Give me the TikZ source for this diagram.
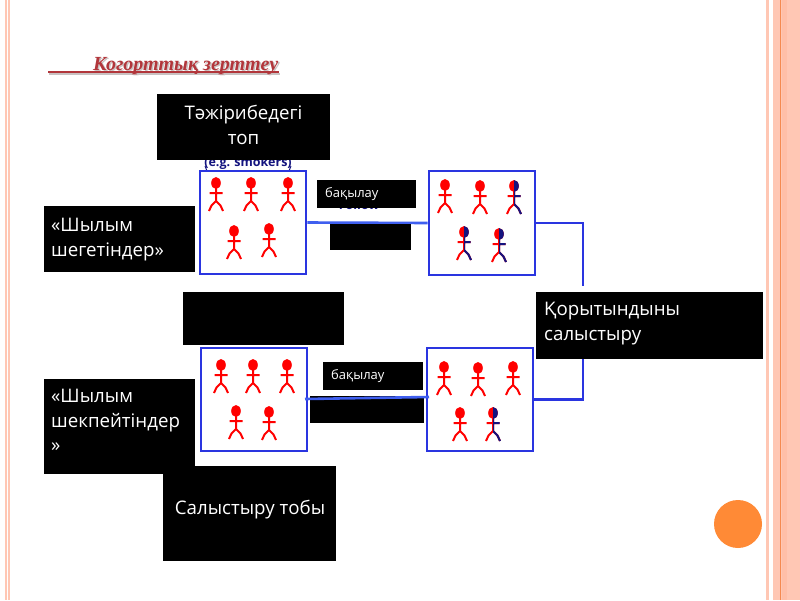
\documentclass[tikz,border=0pt]{standalone}
\usepackage{fontspec}
\setmainfont{Open Sans}
\newfontfamily\titlefont{Liberation Serif}
\definecolor{stripe}{HTML}{FFC7B4}
\definecolor{stripeD}{HTML}{FFBFA8}
\definecolor{stripeL}{HTML}{F58A50}
\definecolor{dotc}{HTML}{FF8A36}
\definecolor{boxb}{HTML}{2A35E0}
\definecolor{linkb}{HTML}{3F5FEF}
\definecolor{navyp}{HTML}{14147F}
\definecolor{titlec}{HTML}{B2363B}
\definecolor{titles}{HTML}{C9C2C2}
\tikzset{
  x=1pt,y=-1pt,
  groupbox/.style={draw=boxb,line width=2.6pt,fill=white,inner sep=0pt,minimum width=#1},
  linkline/.style={draw=boxb,line width=2.4pt,line join=miter},
  linklight/.style={draw=linkb,line width=2.6pt},
  blackbox/.style={fill=black,text=white,anchor=north west,inner sep=0pt,outer sep=0pt},
  bigtext/.style={text=white,inner sep=0pt,font=\fontsize{18.7}{24.5}\selectfont},
  smalltext/.style={text=white,anchor=west,inner sep=0pt,font=\fontsize{13}{15}\selectfont},
  hidden/.style={text=navyp,inner sep=0pt,font=\bfseries\fontsize{12.5}{14}\selectfont},
  limb/.style={line width=2pt,line join=round},
  titletext/.style={anchor=base west,inner sep=0pt,font=\titlefont\bfseries\itshape\fontsize{20}{22}\selectfont}
}
% stick figure, head centred on (#1,#2), in colour #3
\newcommand{\stick}[3]{%
  \fill[#3] (#1,#2) ellipse [x radius=4.8,y radius=6];
  \draw[#3,limb] (#1,#2+5) -- (#1,#2+18) (#1-6.5,#2+10) -- (#1+6.5,#2+10)
    (#1-7,#2+28) -- (#1-4.5,#2+22.5) -- (#1,#2+18) -- (#1+4.5,#2+22.5) -- (#1+7,#2+28);
}
\newcommand{\redman}[2]{\stick{#1}{#2}{red}}
\newcommand{\halfman}[2]{%
  \stick{#1}{#2}{red}
  \begin{scope}
    \clip (#1,#2-8) rectangle (#1+10,#2+32);
    \stick{#1}{#2}{navyp}
  \end{scope}
}
\begin{document}
\begin{tikzpicture}
\useasboundingbox (0,0) rectangle (800,600);
\fill[white] (0,0) rectangle (800,600);
% page decoration
\fill[stripe] (5,0) rectangle (7,600);
\fill[stripe] (8,0) rectangle (10,600);
\fill[stripe] (766,0) rectangle (769,600);
\fill[stripe] (773,0) rectangle (800,600);
\fill[stripeD] (782,0) rectangle (787,600);
\fill[stripeL] (780,0) rectangle (781,600);
\fill[dotc] (738,524) circle [radius=24];
% title
\node[titletext,text=titles] (titleshadow) at (94.5,71.5) {Когорттық зерттеу};
\fill[titles] (49,73) rectangle (280,75);
\node[titletext,text=titlec] (title) at (93,70) {Когорттық зерттеу};
\fill[titlec] (48,71) rectangle (279,73);
% partly covered labels
\node[hidden] (smokers) at (248,163) {(e.g. smokers)};
\draw[navyp,line width=1pt] (205,166) -- (207,171) (291,166) -- (289,171);
\node[hidden] (follow) at (359,205) {Follow};
% group boxes
\node[groupbox=106pt,minimum height=103pt] (tl) at (253,222.5) {};
\node[groupbox=106pt,minimum height=104pt] (tr) at (482,223) {};
\node[groupbox=106pt,minimum height=103pt] (bl) at (254,399.5) {};
\node[groupbox=106pt,minimum height=103pt] (br) at (480,399.5) {};
\coordinate (jt) at (583,286);
\coordinate (jb) at (583,359);
\coordinate (blr) at (305,399);
\coordinate (brl) at (429,397);
% connectors
\draw[linklight] (tl.east) -- (tr.west);
\draw[linkline] (tr.east) -| (jt);
\draw[linkline] (br.east) -| (jb);
% figures
\redman{216}{183}\redman{251}{183}\redman{288}{183}\redman{234}{231}\redman{269}{229}
\redman{445}{185}\redman{480}{186}\halfman{514}{186}\halfman{464}{232}\halfman{499}{234}
\redman{221}{365}\redman{253}{365}\redman{287}{365}\redman{236}{411}\redman{269}{412}
\redman{444}{367}\redman{478}{368}\redman{513}{367}\redman{460}{413}\halfman{493}{413}
% black boxes
\node[blackbox,minimum width=173pt,minimum height=66pt] (exp) at (157,94) {};
\node[bigtext,align=center] (exptext) at (243.5,125) {Тәжірибедегі\\топ};
\node[blackbox,minimum width=99pt,minimum height=28pt] (obs1) at (317,180) {};
\node[smalltext] (obs1text) at (325,194) {бақылау};
\node[blackbox,minimum width=81pt,minimum height=26pt] (cov1) at (330,224) {};
\node[blackbox,minimum width=151pt,minimum height=66pt] (sm) at (44,206) {};
\node[bigtext,align=left,anchor=north west] (smtext) at (51,218) {«Шылым\\шегетіндер»};
\node[blackbox,minimum width=161pt,minimum height=53pt] (mid) at (183,292) {};
\node[blackbox,minimum width=227pt,minimum height=67pt] (res) at (536,292) {};
\node[bigtext,align=left,anchor=north west] (restext) at (544,302) {Қорытындыны\\салыстыру};
\node[blackbox,minimum width=151pt,minimum height=95pt] (nsm) at (44,379) {};
\node[bigtext,align=left,anchor=north west] (nsmtext) at (51,389) {«Шылым\\шекпейтіндер\\»};
\node[blackbox,minimum width=100pt,minimum height=28pt] (obs2) at (323,362) {};
\node[smalltext] (obs2text) at (331,376) {бақылау};
\node[blackbox,minimum width=114pt,minimum height=27pt] (cov2) at (310,396) {};
\node[blackbox,minimum width=173pt,minimum height=95pt] (cmp) at (163,466) {};
\node[bigtext] (cmptext) at (250,510) {Салыстыру тобы};
\draw[linklight] (blr) -- (brl);
\end{tikzpicture}
\end{document}
